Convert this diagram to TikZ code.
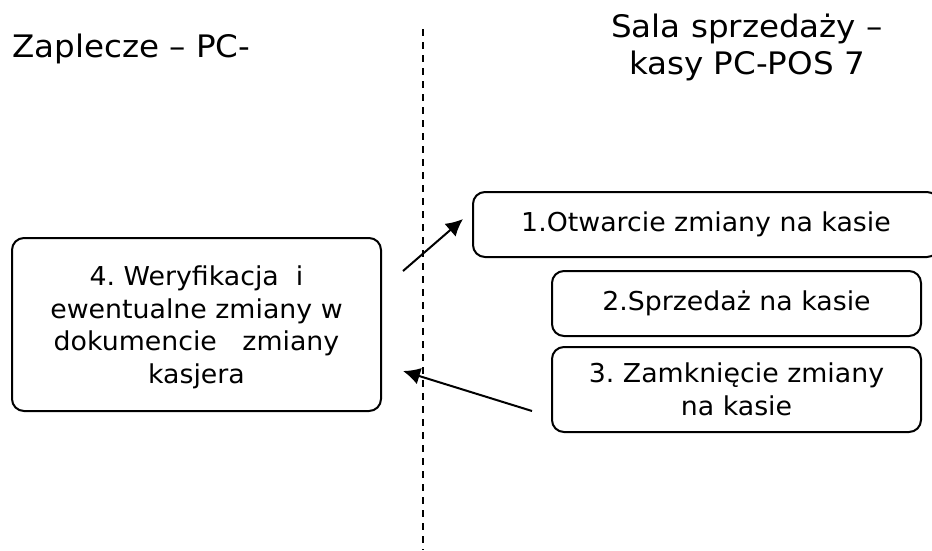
\documentclass[tikz,border=0pt]{standalone}
\usepackage{fontspec}
\setmainfont{DejaVu Sans}
\newfontfamily\boxfont[FakeStretch=1.03]{DejaVu Sans}
\newfontfamily\titlefont[FakeStretch=1.05]{DejaVu Sans}
\usetikzlibrary{arrows.meta}
\begin{document}
\frenchspacing
\begin{tikzpicture}[x=1pt,y=-1pt,
  box/.style={draw, line width=2pt, rounded corners=12pt, align=center,
    font=\boxfont\fontsize{26}{32.5}\selectfont, inner sep=0pt},
  title/.style={font=\titlefont\fontsize{31}{37}\selectfont, inner sep=0pt},
  conn/.style={line width=2pt, -{Latex[length=17pt,width=17pt]}},
  divider/.style={line width=2pt, dash pattern=on 7pt off 6pt}]
\useasboundingbox (0,0) rectangle (932,550);
% titles
\node[title, anchor=base west] (left) at (12,57) {Zaplecze – PC-};
\node[title, align=center, anchor=base] (right) at (747,74) {Sala sprzedaży –\\kasy PC-POS 7};
% divider
\coordinate (dtop) at (423,29);
\coordinate (dbot) at (423,550);
\draw[divider] (dtop) -- (dbot);
% boxes
\node[box, minimum width=466pt, minimum height=65pt] (b1) at (706,224.5) {1.Otwarcie zmiany na kasie};
\node[box, minimum width=369pt, minimum height=65pt] (b2) at (736.5,303.5) {2.Sprzedaż na kasie};
\node[box, minimum width=369pt, minimum height=85pt] (b3) at (736.5,389.5) {3. Zamknięcie zmiany\\na kasie};
\node[box, minimum width=369pt, minimum height=173pt, text depth=0pt] (b4) at (196.5,324.5)
  {4. Weryfikacja\ \ i\\ewentualne zmiany w\\dokumencie\ \ \ zmiany\\kasjera};
% connectors
\coordinate (a1s) at (403,271);
\coordinate (a1e) at (463,219);
\coordinate (a2s) at (532,411);
\coordinate (a2e) at (403,371);
\draw[conn] (a1s) -- (a1e);
\draw[conn] (a2s) -- (a2e);
\end{tikzpicture}
\end{document}
